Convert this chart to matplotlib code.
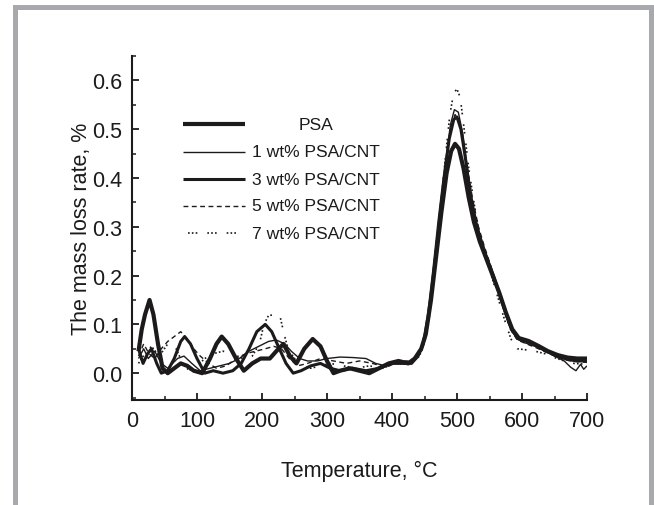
import matplotlib
matplotlib.use("Agg")
import matplotlib.pyplot as plt
from matplotlib.patches import Rectangle
from matplotlib.lines import Line2D
from matplotlib.ticker import MultipleLocator

plt.rcParams['font.family'] = ['Liberation Sans', 'DejaVu Sans']

# ---------------- data ----------------
labels = ["PSA", "1 wt% PSA/CNT", "3 wt% PSA/CNT", "5 wt% PSA/CNT", "7 wt% PSA/CNT"]

T_psa = [10, 15, 20, 27, 33, 40, 47, 55, 65, 75, 85, 95, 108, 120, 130, 138, 148, 160, 172, 185,
         198, 212, 222, 233, 243, 253, 265, 278, 290, 300, 310, 320, 335, 350, 365, 380, 395, 410,
         425, 435, 445, 452, 460, 468, 476, 484, 491, 497, 503, 510, 518, 526, 535, 545, 555, 565,
         575, 585, 595, 610, 625, 640, 655, 670, 685, 700]
y_psa = [0.045, 0.09, 0.12, 0.15, 0.12, 0.06, 0.01, 0.0, 0.01, 0.02, 0.015, 0.005, 0.0, 0.03, 0.06,
         0.075, 0.06, 0.03, 0.005, 0.02, 0.03, 0.03, 0.045, 0.06, 0.035, 0.02, 0.05, 0.07, 0.055,
         0.025, 0.0, 0.005, 0.01, 0.005, 0.0, 0.01, 0.02, 0.025, 0.02, 0.03, 0.05, 0.08, 0.15, 0.24,
         0.33, 0.41, 0.455, 0.47, 0.46, 0.42, 0.36, 0.31, 0.27, 0.235, 0.20, 0.165, 0.125, 0.09,
         0.072, 0.066, 0.056, 0.045, 0.037, 0.032, 0.03, 0.03]

T_1 = [10, 18, 25, 35, 45, 55, 70, 80, 92, 105, 120, 135, 150, 165, 180, 195, 210, 222, 235, 245,
       258, 270, 285, 300, 320, 340, 360, 375, 390, 405, 420, 432, 442, 450, 458, 466, 474, 482,
       490, 496, 502, 509, 516, 524, 532, 541, 551, 561, 571, 581, 592, 605, 620, 635, 650, 665,
       675, 683, 690, 695, 700]
y_1 = [0.03, 0.05, 0.03, 0.045, 0.02, 0.01, 0.03, 0.035, 0.02, 0.005, 0.01, 0.015, 0.02, 0.03,
       0.045, 0.055, 0.065, 0.068, 0.06, 0.045, 0.03, 0.025, 0.025, 0.03, 0.033, 0.032, 0.03, 0.02,
       0.015, 0.022, 0.02, 0.025, 0.04, 0.07, 0.14, 0.24, 0.34, 0.43, 0.51, 0.54, 0.535, 0.49,
       0.42, 0.35, 0.30, 0.26, 0.22, 0.18, 0.135, 0.095, 0.07, 0.062, 0.055, 0.045, 0.035, 0.025,
       0.012, 0.005, 0.018, 0.008, 0.015]

T_3 = [10, 17, 24, 30, 38, 45, 55, 65, 75, 81, 90, 100, 112, 125, 140, 155, 168, 180, 192, 205,
       215, 225, 237, 248, 260, 275, 290, 305, 320, 340, 360, 380, 400, 415, 430, 440, 448, 456,
       464, 472, 480, 488, 495, 500, 506, 513, 520, 528, 537, 546, 556, 566, 576, 586, 596, 610,
       625, 640, 655, 670, 685, 700]
y_3 = [0.05, 0.02, 0.04, 0.05, 0.02, 0.0, 0.005, 0.03, 0.065, 0.075, 0.06, 0.03, 0.0, 0.005, 0.0,
       0.005, 0.02, 0.05, 0.085, 0.1, 0.085, 0.055, 0.02, 0.0, 0.005, 0.015, 0.02, 0.01, 0.005,
       0.01, 0.005, 0.01, 0.02, 0.02, 0.02, 0.035, 0.06, 0.12, 0.21, 0.31, 0.40, 0.48, 0.52, 0.525,
       0.50, 0.44, 0.37, 0.31, 0.27, 0.235, 0.20, 0.16, 0.12, 0.085, 0.07, 0.064, 0.055, 0.044,
       0.035, 0.028, 0.025, 0.025]

T_5 = [10, 18, 26, 35, 45, 55, 65, 75, 85, 95, 105, 118, 130, 145, 160, 175, 190, 205, 218, 230,
       242, 255, 270, 290, 310, 330, 350, 370, 390, 405, 420, 432, 442, 450, 458, 466, 474, 482,
       490, 497, 503, 510, 517, 525, 533, 542, 552, 562, 572, 582, 593, 607, 622, 637, 652, 667,
       682, 700]
y_5 = [0.035, 0.06, 0.04, 0.03, 0.05, 0.065, 0.075, 0.085, 0.07, 0.05, 0.035, 0.02, 0.01, 0.015,
       0.03, 0.04, 0.045, 0.05, 0.055, 0.05, 0.03, 0.015, 0.02, 0.03, 0.025, 0.02, 0.025, 0.02,
       0.012, 0.02, 0.025, 0.025, 0.038, 0.065, 0.13, 0.23, 0.33, 0.42, 0.50, 0.53, 0.52, 0.47,
       0.41, 0.35, 0.30, 0.26, 0.22, 0.175, 0.13, 0.09, 0.068, 0.06, 0.052, 0.043, 0.034, 0.027,
       0.024, 0.022]

T_7 = [10, 20, 30, 42, 55, 68, 78, 88, 100, 112, 125, 140, 155, 170, 185, 196, 203, 210, 220, 228,
       234, 240, 250, 262, 275, 290, 305, 325, 345, 365, 385, 405, 420, 432, 442, 450, 458, 466,
       474, 482, 489, 495, 500, 505, 511, 518, 526, 534, 543, 553, 563, 573, 583, 593, 605, 620,
       635, 650, 665, 680, 700]
y_7 = [0.02, 0.04, 0.055, 0.035, 0.06, 0.05, 0.02, 0.005, 0.015, 0.03, 0.04, 0.045, 0.04, 0.03,
       0.035, 0.06, 0.1, 0.118, 0.12, 0.115, 0.08, 0.05, 0.03, 0.015, 0.01, 0.015, 0.02, 0.015,
       0.01, 0.015, 0.01, 0.02, 0.02, 0.022, 0.035, 0.06, 0.12, 0.22, 0.33, 0.44, 0.53, 0.575,
       0.582, 0.565, 0.50, 0.42, 0.35, 0.29, 0.245, 0.20, 0.155, 0.11, 0.07, 0.05, 0.048, 0.045,
       0.04, 0.032, 0.025, 0.02, 0.018]

x_ticks = [0, 100, 200, 300, 400, 500, 600, 700]
y_ticks = [0.0, 0.1, 0.2, 0.3, 0.4, 0.5, 0.6]

# ---------------- styles ----------------
ink = '#1c1a1b'
styles = [
    dict(color=ink, lw=3.0, ls='-'),
    dict(color=ink, lw=1.0, ls='-'),
    dict(color=ink, lw=2.2, ls='-'),
    dict(color=ink, lw=1.0, ls=(0, (3.5, 2.5))),
    dict(color=ink, lw=1.2, ls=(0, (1, 1.3, 1, 1.3, 1, 6))),
]
series = [(T_psa, y_psa), (T_1, y_1), (T_3, y_3), (T_5, y_5), (T_7, y_7)]

fig = plt.figure(figsize=(6.54, 5.06), dpi=100)
fig.patch.set_facecolor('white')

# gray frame
W, H = 654.0, 506.0
gray = '#a7a9ac'
fig.add_artist(Rectangle((13 / W, 0), 5 / W, 500 / H, transform=fig.transFigure,
                         facecolor=gray, edgecolor='none'))
fig.add_artist(Rectangle((13 / W, 495 / H), (654 - 13) / W, 5 / H, transform=fig.transFigure,
                         facecolor=gray, edgecolor='none'))
fig.add_artist(Rectangle((649 / W, 0), 5 / W, 500 / H, transform=fig.transFigure,
                         facecolor=gray, edgecolor='none'))

ax = fig.add_axes([132 / W, 105 / H, 455 / W, 344 / H])
# draw in reverse so the thick PSA line sits on top
for (t, y), st in list(zip(series, styles))[::-1]:
    ax.plot(t, y, solid_capstyle='butt', dash_capstyle='butt', **st)

ax.set_xlim(0, 700)
ax.set_ylim(-0.055, 0.65)
ax.set_xticks(x_ticks)
ax.set_yticks(y_ticks)
ax.set_yticklabels([f"{v:.1f}" for v in y_ticks])
ax.xaxis.set_minor_locator(MultipleLocator(50))
ax.yaxis.set_minor_locator(MultipleLocator(0.05))
for s in ['top', 'right']:
    ax.spines[s].set_visible(False)
for s in ['left', 'bottom']:
    ax.spines[s].set_linewidth(1.5)
    ax.spines[s].set_color(ink)
ax.tick_params(which='major', direction='in', length=5, width=1.3, color=ink,
               labelsize=15.5, labelcolor=ink, pad=7)
ax.tick_params(which='minor', direction='in', length=3, width=1.1, color=ink)
ax.set_xlabel("Temperature, \u00b0C", fontsize=15.5, color=ink, labelpad=21)
ax.set_ylabel("The mass loss rate, %", fontsize=15.5, color=ink, labelpad=0)

# legend (drawn manually: sample line + centred text)
leg_y = [0.802, 0.722, 0.642, 0.565, 0.485]
for i, (lab, st) in enumerate(zip(labels, styles)):
    x0 = 0.122 if i == 4 else 0.111
    ax.add_line(Line2D([x0, 0.249], [leg_y[i], leg_y[i]], transform=ax.transAxes,
                       solid_capstyle='butt', dash_capstyle='butt', **st))
    ax.text(0.405, leg_y[i], lab, transform=ax.transAxes, ha='center', va='center',
            fontsize=12.6, color=ink)

fig.savefig("out.png", dpi=100, facecolor='white')
